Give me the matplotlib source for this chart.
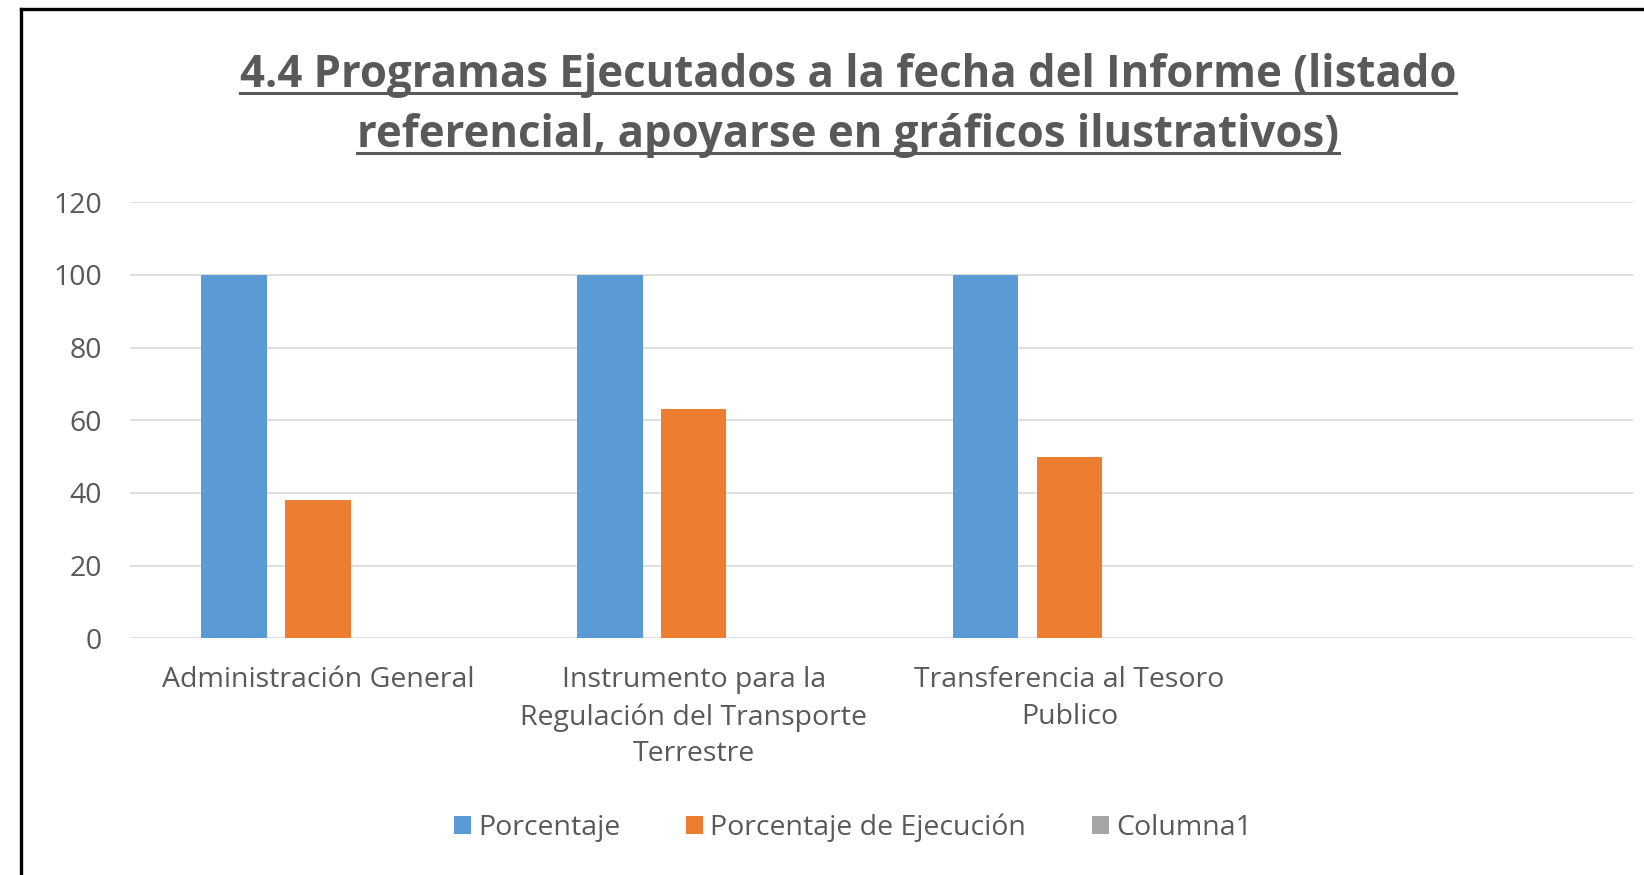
import matplotlib
matplotlib.use("Agg")
import matplotlib.pyplot as plt
from matplotlib.lines import Line2D
from matplotlib.patches import Patch
import numpy as np

# chart data
categories = ["Administración General",
              "Instrumento para la\nRegulación del Transporte\nTerrestre",
              "Transferencia al Tesoro\nPublico",
              ""]
porcentaje = [100, 100, 100, 0]
porcentaje_ejecucion = [38, 63, 50, 0]
columna1 = [0, 0, 0, 0]
series_names = ["Porcentaje", "Porcentaje de Ejecución", "Columna1"]
colors = ["#5B9BD5", "#ED7D31", "#A5A5A5"]
title_lines = ["4.4 Programas Ejecutados a la fecha del Informe (listado",
               "referencial, apoyarse en gráficos ilustrativos)"]

TEXT = "#595959"
W, H = 1644, 875
plt.rcParams['font.family'] = ['Open Sans', 'DejaVu Sans']

fig = plt.figure(figsize=(W / 100, H / 100), dpi=100)
ax = fig.add_axes([130 / W, 1 - 638.3 / H, 1503 / W, 436 / H])

x = np.arange(len(categories))
width = 0.174
step = 0.223
for i, vals in enumerate([porcentaje, porcentaje_ejecucion, columna1]):
    ax.bar(x + (i - 1) * step, vals, width, color=colors[i], zorder=3)

ax.set_xlim(-0.5, len(categories) - 0.5)
ax.set_ylim(0, 120)
ax.set_yticks(range(0, 121, 20))
ax.set_xticks(x)
ax.set_xticklabels(categories, linespacing=1.42)
ax.tick_params(axis='both', length=0, colors=TEXT, labelsize=20.5)
ax.tick_params(axis='y', pad=20)
ax.tick_params(axis='x', pad=20)
for s in ax.spines.values():
    s.set_visible(False)
ax.grid(axis='y', color="#D9D9D9", linewidth=1.2, zorder=0)

# title, two underlined lines
title_y = [75, 135]
title_txt = []
for line, yy in zip(title_lines, title_y):
    t = fig.text(848 / W, 1 - yy / H, line, ha='center', va='center',
                 fontsize=31.5, fontweight='bold', color=TEXT, family=['Open Sans', 'DejaVu Sans'])
    title_txt.append(t)

handles = [Patch(facecolor=c, edgecolor='none') for c in colors]
fig.legend(handles, series_names, loc='center', bbox_to_anchor=(853 / W, 1 - 828 / H),
           ncol=3, frameon=False, fontsize=20.5, labelcolor=TEXT,
           handlelength=0.6, handleheight=0.6, handletextpad=0.25, columnspacing=2.3)

fig.canvas.draw()
r = fig.canvas.get_renderer()
for t, uy in zip(title_txt, [93, 153]):
    bb = t.get_window_extent(r)
    fig.add_artist(Line2D([bb.x0 / W, bb.x1 / W], [1 - uy / H, 1 - uy / H],
                          transform=fig.transFigure, color=TEXT, linewidth=2.2))

# frame along top and left edge
fig.add_artist(Line2D([21 / W, 21 / W], [0, 1 - 9 / H], transform=fig.transFigure,
                      color='black', linewidth=2.4))
fig.add_artist(Line2D([21 / W, 1], [1 - 9 / H, 1 - 9 / H], transform=fig.transFigure,
                      color='black', linewidth=2.4))

fig.savefig("out.png", dpi=100)
